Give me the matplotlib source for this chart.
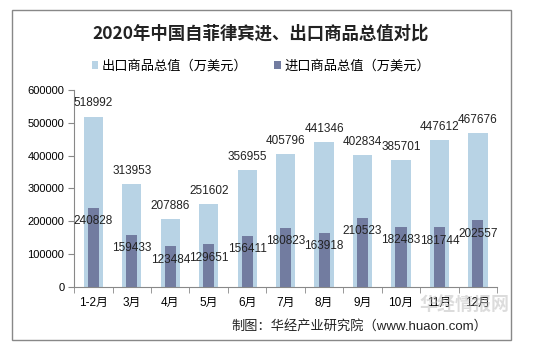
import matplotlib
matplotlib.use("Agg")
import matplotlib.pyplot as plt
from matplotlib.patches import Rectangle
import numpy as np

plt.rcParams['font.family'] = ['Liberation Sans', 'Noto Sans CJK SC', 'DejaVu Sans']

months = ['1-2月', '3月', '4月', '5月', '6月', '7月', '8月', '9月', '10月', '11月', '12月']
export_vals = [518992, 313953, 207886, 251602, 356955, 405796, 441346, 402834, 385701, 447612, 467676]
import_vals = [240828, 159433, 123484, 129651, 156411, 180823, 163918, 210523, 182483, 181744, 202557]
yticks = [0, 100000, 200000, 300000, 400000, 500000, 600000]

light = '#B8D3E5'
dark = '#727CA0'

fig = plt.figure(figsize=(5.53, 3.5), dpi=100)
ax = fig.add_axes([0.134, 0.18, 0.765, 0.563])

x = np.arange(len(months))
ax.bar(x, export_vals, width=0.5, color=light, label='出口商品总值（万美元）', zorder=2)
ax.bar(x, import_vals, width=0.29, color=dark, label='进口商品总值（万美元）', zorder=3)

for xi, v in zip(x, export_vals):
    ax.annotate(str(v), (xi, v), xytext=(0, 9.5), textcoords='offset points',
                ha='center', va='center', fontsize=8.5, color='#222222', zorder=4)
for xi, v in zip(x, import_vals):
    ax.annotate(str(v), (xi, v), xytext=(0, -9.5), textcoords='offset points',
                ha='center', va='center', fontsize=8.5, color='#222222', zorder=4)

ax.set_xlim(-0.5, len(months) - 0.5)
ax.set_ylim(0, 600000)
ax.set_yticks(yticks)
ax.set_yticklabels([str(t) for t in yticks], fontsize=8)
ax.set_xticks(x)
ax.set_xticklabels(months, fontsize=8.5)
ax.set_xticks(np.arange(-0.5, len(months)), minor=True)
ax.tick_params(axis='x', which='major', length=0, pad=7)
ax.tick_params(axis='x', which='minor', length=4, color='#888888')
ax.tick_params(axis='y', length=4, color='#888888', pad=3)
for s in ['top', 'right']:
    ax.spines[s].set_visible(False)
for s in ['left', 'bottom']:
    ax.spines[s].set_color('#888888')

fig.text(0.472, 0.905, '2020年中国自菲律宾进、出口商品总值对比', ha='center', va='center',
         fontsize=12.5, fontweight='bold', family=['Noto Sans CJK SC'], color='#222222')

fig.legend(loc='center', bbox_to_anchor=(0.472, 0.81), ncol=2, frameon=False,
           fontsize=9.5, handlelength=0.5, handleheight=0.5, handletextpad=0.3,
           columnspacing=2.0)

fig.text(0.882, 0.068, '制图：华经产业研究院（www.huaon.com）', ha='right', va='center',
         fontsize=9.5, color='#222222')
# faint site watermark, as in the original image
fig.text(0.84, 0.125, '华经情报网', ha='center', va='center', fontsize=13,
         color='#BBBBBB', alpha=0.5, fontweight='bold', zorder=5)

fig.patches.append(Rectangle((12 / 553, 1 - 340 / 350), 499 / 553, 330 / 350,
                             transform=fig.transFigure, fill=False,
                             edgecolor='#888888', linewidth=1))

fig.savefig('out.png', dpi=100)
